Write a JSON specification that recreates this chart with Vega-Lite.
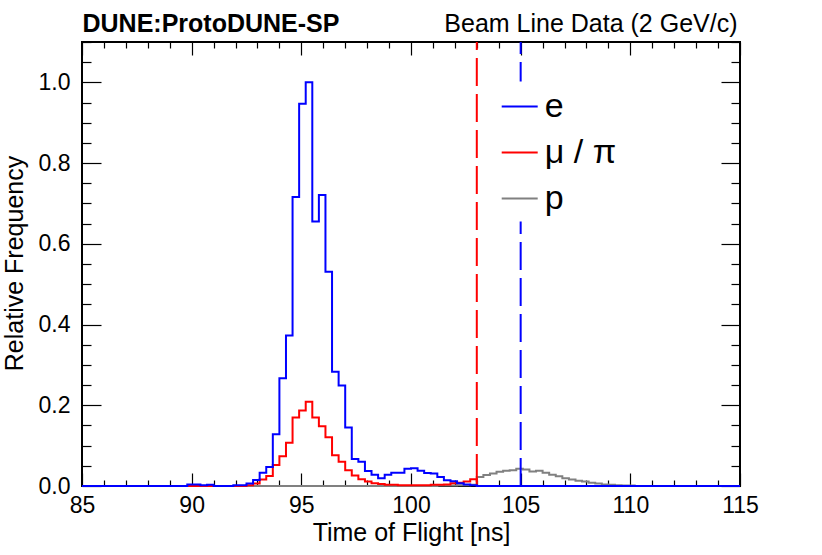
{
  "$schema": "https://vega.github.io/schema/vega-lite/v6.json",
  "description": "ProtoDUNE-SP beam line time of flight, 2 GeV/c",
  "width": 658,
  "height": 444,
  "autosize": {"type": "none"},
  "padding": {"left": 82, "top": 42, "right": 82, "bottom": 69},
  "background": "white",
  "data": {
    "values": [
      {"particle": "p", "t": 85.0, "freq": 0},
      {"particle": "p", "t": 101.2, "freq": 0.001},
      {"particle": "p", "t": 101.5, "freq": 0.001},
      {"particle": "p", "t": 101.8, "freq": 0.001},
      {"particle": "p", "t": 102.1, "freq": 0.002},
      {"particle": "p", "t": 102.4, "freq": 0.002},
      {"particle": "p", "t": 102.7, "freq": 0.003},
      {"particle": "p", "t": 103.0, "freq": 0.022},
      {"particle": "p", "t": 103.3, "freq": 0.027},
      {"particle": "p", "t": 103.6, "freq": 0.031},
      {"particle": "p", "t": 103.9, "freq": 0.035},
      {"particle": "p", "t": 104.2, "freq": 0.038},
      {"particle": "p", "t": 104.5, "freq": 0.039},
      {"particle": "p", "t": 104.8, "freq": 0.043},
      {"particle": "p", "t": 105.1, "freq": 0.041},
      {"particle": "p", "t": 105.4, "freq": 0.036},
      {"particle": "p", "t": 105.7, "freq": 0.038},
      {"particle": "p", "t": 106.0, "freq": 0.033},
      {"particle": "p", "t": 106.3, "freq": 0.028},
      {"particle": "p", "t": 106.6, "freq": 0.024},
      {"particle": "p", "t": 106.9, "freq": 0.019},
      {"particle": "p", "t": 107.2, "freq": 0.016},
      {"particle": "p", "t": 107.5, "freq": 0.013},
      {"particle": "p", "t": 107.8, "freq": 0.011},
      {"particle": "p", "t": 108.1, "freq": 0.008},
      {"particle": "p", "t": 108.4, "freq": 0.006},
      {"particle": "p", "t": 108.7, "freq": 0.004},
      {"particle": "p", "t": 109.0, "freq": 0.003},
      {"particle": "p", "t": 109.3, "freq": 0.002},
      {"particle": "p", "t": 109.6, "freq": 0.001},
      {"particle": "p", "t": 109.9, "freq": 0.001},
      {"particle": "p", "t": 110.2, "freq": 0},
      {"particle": "p", "t": 115.0, "freq": 0},
      {"particle": "μ / π", "t": 85.0, "freq": 0},
      {"particle": "μ / π", "t": 92.5, "freq": 0.002},
      {"particle": "μ / π", "t": 92.8, "freq": 0.006},
      {"particle": "μ / π", "t": 93.1, "freq": 0.016},
      {"particle": "μ / π", "t": 93.4, "freq": 0.025},
      {"particle": "μ / π", "t": 93.7, "freq": 0.052},
      {"particle": "μ / π", "t": 94.0, "freq": 0.074},
      {"particle": "μ / π", "t": 94.3, "freq": 0.107},
      {"particle": "μ / π", "t": 94.6, "freq": 0.17},
      {"particle": "μ / π", "t": 94.9, "freq": 0.187},
      {"particle": "μ / π", "t": 95.2, "freq": 0.209},
      {"particle": "μ / π", "t": 95.5, "freq": 0.17},
      {"particle": "μ / π", "t": 95.8, "freq": 0.148},
      {"particle": "μ / π", "t": 96.1, "freq": 0.121},
      {"particle": "μ / π", "t": 96.4, "freq": 0.076},
      {"particle": "μ / π", "t": 96.7, "freq": 0.06},
      {"particle": "μ / π", "t": 97.0, "freq": 0.039},
      {"particle": "μ / π", "t": 97.3, "freq": 0.026},
      {"particle": "μ / π", "t": 97.6, "freq": 0.017},
      {"particle": "μ / π", "t": 97.9, "freq": 0.011},
      {"particle": "μ / π", "t": 98.2, "freq": 0.007},
      {"particle": "μ / π", "t": 98.5, "freq": 0.005},
      {"particle": "μ / π", "t": 98.8, "freq": 0.003},
      {"particle": "μ / π", "t": 99.1, "freq": 0.003},
      {"particle": "μ / π", "t": 99.4, "freq": 0.002},
      {"particle": "μ / π", "t": 99.7, "freq": 0.002},
      {"particle": "μ / π", "t": 100.0, "freq": 0.002},
      {"particle": "μ / π", "t": 100.3, "freq": 0.002},
      {"particle": "μ / π", "t": 100.6, "freq": 0.002},
      {"particle": "μ / π", "t": 100.9, "freq": 0.003},
      {"particle": "μ / π", "t": 101.2, "freq": 0.003},
      {"particle": "μ / π", "t": 101.5, "freq": 0.004},
      {"particle": "μ / π", "t": 101.8, "freq": 0.007},
      {"particle": "μ / π", "t": 102.1, "freq": 0.008},
      {"particle": "μ / π", "t": 102.4, "freq": 0.011},
      {"particle": "μ / π", "t": 102.7, "freq": 0.017},
      {"particle": "μ / π", "t": 103.0, "freq": 0},
      {"particle": "μ / π", "t": 115.0, "freq": 0},
      {"particle": "e", "t": 85.0, "freq": 0},
      {"particle": "e", "t": 89.8, "freq": 0.004},
      {"particle": "e", "t": 90.1, "freq": 0.004},
      {"particle": "e", "t": 90.4, "freq": 0.002},
      {"particle": "e", "t": 90.7, "freq": 0.003},
      {"particle": "e", "t": 91.0, "freq": 0},
      {"particle": "e", "t": 91.9, "freq": 0.002},
      {"particle": "e", "t": 92.2, "freq": 0.002},
      {"particle": "e", "t": 92.5, "freq": 0.006},
      {"particle": "e", "t": 92.8, "freq": 0.015},
      {"particle": "e", "t": 93.1, "freq": 0.033},
      {"particle": "e", "t": 93.4, "freq": 0.047},
      {"particle": "e", "t": 93.7, "freq": 0.128},
      {"particle": "e", "t": 94.0, "freq": 0.267},
      {"particle": "e", "t": 94.3, "freq": 0.373},
      {"particle": "e", "t": 94.6, "freq": 0.716},
      {"particle": "e", "t": 94.9, "freq": 0.947},
      {"particle": "e", "t": 95.2, "freq": 1.0},
      {"particle": "e", "t": 95.5, "freq": 0.655},
      {"particle": "e", "t": 95.8, "freq": 0.721},
      {"particle": "e", "t": 96.1, "freq": 0.531},
      {"particle": "e", "t": 96.4, "freq": 0.283},
      {"particle": "e", "t": 96.7, "freq": 0.249},
      {"particle": "e", "t": 97.0, "freq": 0.145},
      {"particle": "e", "t": 97.3, "freq": 0.067},
      {"particle": "e", "t": 97.6, "freq": 0.06},
      {"particle": "e", "t": 97.9, "freq": 0.037},
      {"particle": "e", "t": 98.2, "freq": 0.028},
      {"particle": "e", "t": 98.5, "freq": 0.019},
      {"particle": "e", "t": 98.8, "freq": 0.028},
      {"particle": "e", "t": 99.1, "freq": 0.033},
      {"particle": "e", "t": 99.4, "freq": 0.033},
      {"particle": "e", "t": 99.7, "freq": 0.043},
      {"particle": "e", "t": 100.0, "freq": 0.044},
      {"particle": "e", "t": 100.3, "freq": 0.038},
      {"particle": "e", "t": 100.6, "freq": 0.032},
      {"particle": "e", "t": 100.9, "freq": 0.031},
      {"particle": "e", "t": 101.2, "freq": 0.022},
      {"particle": "e", "t": 101.5, "freq": 0.014},
      {"particle": "e", "t": 101.8, "freq": 0.012},
      {"particle": "e", "t": 102.1, "freq": 0.007},
      {"particle": "e", "t": 102.4, "freq": 0.004},
      {"particle": "e", "t": 102.7, "freq": 0.002},
      {"particle": "e", "t": 103.0, "freq": 0},
      {"particle": "e", "t": 115.0, "freq": 0}
    ]
  },
  "resolve": {"axis": {"x": "independent", "y": "independent"}},
  "layer": [
    {
      "mark": {"type": "line", "interpolate": "step-after", "strokeWidth": 2},
      "encoding": {
        "x": {
          "field": "t",
          "type": "quantitative",
          "scale": {"domain": [85, 115], "nice": false},
          "axis": {
            "orient": "bottom",
            "values": [85, 86, 87, 88, 89, 90, 91, 92, 93, 94, 95, 96, 97, 98, 99, 100, 101, 102, 103, 104, 105, 106, 107, 108, 109, 110, 111, 112, 113, 114, 115],
            "tickSize": {"condition": {"test": "datum.value % 5 === 0", "value": -13}, "value": -6},
            "labelExpr": "datum.value % 5 === 0 ? datum.label : ''",
            "labelPadding": 21,
            "labelFontSize": 23,
            "labelFlush": false,
            "labelOverlap": false,
            "title": "Time of Flight [ns]",
            "titleFontSize": 25,
            "titleX": 329,
            "titleY": 54,
            "titleBaseline": "alphabetic"
          }
        },
        "y": {
          "field": "freq",
          "type": "quantitative",
          "scale": {"domain": [0, 1.1], "nice": false},
          "axis": {
            "orient": "left",
            "values": [0, 0.05, 0.1, 0.15, 0.2, 0.25, 0.3, 0.35, 0.4, 0.45, 0.5, 0.55, 0.6, 0.65, 0.7, 0.75, 0.8, 0.85, 0.9, 0.95, 1.0, 1.05, 1.1],
            "tickSize": {"condition": {"test": "abs(datum.value * 5 - round(datum.value * 5)) < 0.001", "value": -19}, "value": -9},
            "labelExpr": "abs(datum.value * 5 - round(datum.value * 5)) < 0.001 ? format(datum.value, '.1f') : ''",
            "labelPadding": 31,
            "labelFontSize": 23,
            "labelOverlap": false,
            "labelFlush": false,
            "title": "Relative Frequency",
            "titleFontSize": 25,
            "titleX": -60,
            "titleY": 221,
            "titleBaseline": "alphabetic"
          }
        },
        "color": {
          "field": "particle",
          "type": "nominal",
          "scale": {"domain": ["e", "μ / π", "p"], "range": ["#0000ff", "#ff0000", "#808080"]},
          "legend": {
            "orient": "none",
            "legendX": 412.7,
            "legendY": 39.5,
            "title": null,
            "symbolType": "stroke",
            "symbolSize": 1296,
            "symbolStrokeWidth": 2,
            "labelFontSize": 34,
            "labelFont": "Liberation Sans",
            "labelColor": "black",
            "labelOffset": 6,
            "labelLimit": 0,
            "rowPadding": 10,
            "padding": 6,
            "fillColor": "white"
          }
        }
      }
    },
    {
      "data": {"values": [{"cut": 103}]},
      "mark": {"type": "rule", "color": "#ff0000", "strokeWidth": 2, "strokeDash": [28, 8]},
      "encoding": {
        "x": {
          "field": "cut",
          "type": "quantitative",
          "axis": {
            "orient": "top",
            "values": [85, 86, 87, 88, 89, 90, 91, 92, 93, 94, 95, 96, 97, 98, 99, 100, 101, 102, 103, 104, 105, 106, 107, 108, 109, 110, 111, 112, 113, 114, 115],
            "tickSize": {"condition": {"test": "datum.value % 5 === 0", "value": -13}, "value": -6},
            "labels": false,
            "title": "Beam Line Data (2 GeV/c)",
            "titleFontSize": 25,
            "titleX": 655,
            "titleY": -11,
            "titleAlign": "right",
            "titleBaseline": "alphabetic"
          }
        },
        "y": {
          "datum": 0.01,
          "type": "quantitative",
          "axis": {
            "orient": "right",
            "values": [0, 0.05, 0.1, 0.15, 0.2, 0.25, 0.3, 0.35, 0.4, 0.45, 0.5, 0.55, 0.6, 0.65, 0.7, 0.75, 0.8, 0.85, 0.9, 0.95, 1.0, 1.05, 1.1],
            "tickSize": {"condition": {"test": "abs(datum.value * 5 - round(datum.value * 5)) < 0.001", "value": -19}, "value": -9},
            "labels": false,
            "title": null
          }
        },
        "y2": {"datum": 1.1}
      }
    },
    {
      "data": {"values": [{"cut": 105}]},
      "mark": {"type": "rule", "color": "#0000ff", "strokeWidth": 2, "strokeDash": [28, 8]},
      "encoding": {
        "x": {
          "field": "cut",
          "type": "quantitative",
          "axis": {
            "orient": "top",
            "ticks": false,
            "labels": false,
            "title": "DUNE:ProtoDUNE-SP",
            "titleFontSize": 25,
            "titleFontWeight": "bold",
            "titleX": 0,
            "titleY": -11,
            "titleAlign": "left",
            "titleBaseline": "alphabetic"
          }
        },
        "y": {"datum": 0, "type": "quantitative", "axis": null},
        "y2": {"datum": 1.1}
      }
    }
  ],
  "config": {
    "view": {"stroke": "black", "strokeWidth": 2},
    "axis": {
      "domain": false,
      "grid": false,
      "labelFont": "Liberation Sans",
      "titleFont": "Liberation Sans",
      "labelFontSize": 24,
      "titleFontSize": 24,
      "titleFontWeight": "normal",
      "labelColor": "black",
      "titleColor": "black",
      "tickColor": "black",
      "tickWidth": 1.2
    }
  }
}
